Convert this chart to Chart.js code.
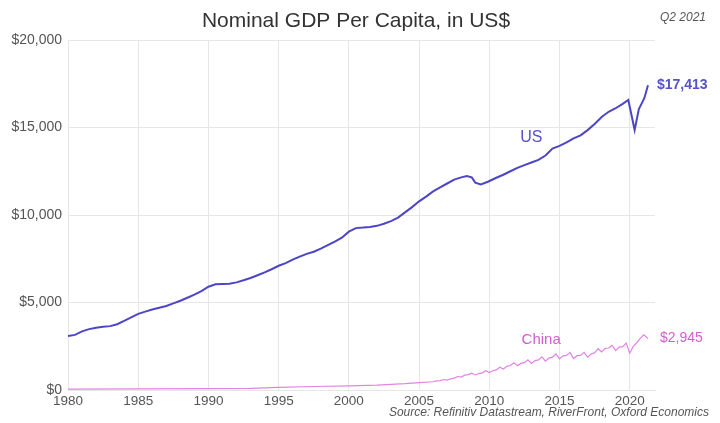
<!DOCTYPE html>
<html>
<head>
<meta charset="utf-8">
<script src="https://cdn.jsdelivr.net/npm/chart.js@4"></script>
<style>
  html, body { margin: 0; padding: 0; background: #fff; }
  #wrap { width: 720px; height: 423px; position: relative; }
</style>
</head>
<body>
<div id="wrap"><canvas id="gdpChart"></canvas></div>
<script>
// US, quarterly-ish readings (year, US$ per capita)
const usYears = [1980, 1980.5, 1981, 1981.5, 1982, 1982.5, 1983, 1983.5, 1984, 1984.5,
  1985, 1985.5, 1986, 1986.5, 1987, 1987.5, 1988, 1988.5, 1989, 1989.5,
  1990, 1990.5, 1991, 1991.5, 1992, 1992.5, 1993, 1993.5, 1994, 1994.5,
  1995, 1995.5, 1996, 1996.5, 1997, 1997.5, 1998, 1998.5, 1999, 1999.5,
  2000, 2000.5, 2001, 2001.5, 2002, 2002.5, 2003, 2003.5, 2004, 2004.5,
  2005, 2005.5, 2006, 2006.5, 2007, 2007.5, 2008, 2008.4, 2008.75, 2009, 2009.4, 2009.9,
  2010.5, 2011, 2011.5, 2012, 2012.5, 2013, 2013.5, 2014, 2014.5,
  2015, 2015.5, 2016, 2016.5, 2017, 2017.5, 2018, 2018.5, 2019, 2019.5, 2019.9,
  2020.35, 2020.65, 2020.9, 2021.05, 2021.3];
const usValues = [3090, 3150, 3350, 3480, 3560, 3610, 3650, 3760, 3950, 4150,
  4350, 4480, 4600, 4700, 4800, 4950, 5100, 5270, 5450, 5650,
  5900, 6040, 6060, 6070, 6150, 6270, 6400, 6560, 6720, 6900,
  7100, 7250, 7450, 7620, 7780, 7900, 8080, 8280, 8480, 8700,
  9050, 9250, 9280, 9320, 9380, 9500, 9650, 9850, 10150, 10450,
  10780, 11050, 11350, 11580, 11800, 12020, 12150, 12230, 12150, 11850, 11750, 11900,
  12130, 12300, 12500, 12690, 12850, 13000, 13150, 13400, 13800,
  13950, 14150, 14380, 14550, 14850, 15200, 15600, 15900, 16100, 16350, 16570,
  14860, 16050, 16450, 16700, 17413];

// China readings
const cnYears = [1980, 1985, 1990, 1993, 1995, 1997.5, 2000, 2002, 2004, 2005,
  2006, 2006.25, 2006.5, 2006.75, 2007, 2007.25, 2007.5, 2007.75,
  2008, 2008.25, 2008.5, 2008.75, 2009, 2009.25, 2009.5, 2009.75,
  2010, 2010.25, 2010.5, 2010.75, 2011, 2011.25, 2011.5, 2011.75,
  2012, 2012.25, 2012.5, 2012.75, 2013, 2013.25, 2013.5, 2013.75,
  2014, 2014.25, 2014.5, 2014.75, 2015, 2015.25, 2015.5, 2015.75,
  2016, 2016.25, 2016.5, 2016.75, 2017, 2017.25, 2017.5, 2017.75,
  2018, 2018.25, 2018.5, 2018.75, 2019, 2019.25, 2019.5, 2019.75,
  2020, 2020.25, 2020.5, 2020.75, 2021, 2021.3];
const cnValues = [50, 70, 80, 95, 150, 200, 240, 280, 360, 420,
  470, 520, 540, 600, 570, 640, 680, 770,
  740, 850, 880, 960, 860, 940, 980, 1100,
  1000, 1100, 1150, 1300, 1200, 1350, 1400, 1560,
  1380, 1520, 1560, 1720, 1520, 1680, 1720, 1900,
  1650, 1820, 1880, 2060, 1780, 1950, 1980, 2150,
  1800, 1960, 1980, 2150, 1880, 2060, 2120, 2360,
  2180, 2380, 2400, 2550, 2250, 2450, 2480, 2680,
  2100, 2500, 2700, 2950, 3150, 2945];

const yTicks = [0, 5000, 10000, 15000, 20000];
const xTicks = [1980, 1985, 1990, 1995, 2000, 2005, 2010, 2015, 2020];

const usColor = '#4c46c6';
const cnColor = '#e383e2';
const fontFamily = '"Liberation Sans", Arial, sans-serif';

const toPoints = (xs, ys) => xs.map((x, i) => ({ x: x, y: ys[i] }));

// titles, source and series labels
const labelsPlugin = {
  id: 'labels',
  afterDraw(chart) {
    const ctx = chart.ctx;
    const xs = chart.scales.x, ys = chart.scales.y;
    ctx.save();
    ctx.textBaseline = 'middle';

    ctx.fillStyle = '#333';
    ctx.font = '21px ' + fontFamily;
    ctx.textAlign = 'center';
    ctx.fillText('Nominal GDP Per Capita, in US$', 356, 21);

    ctx.fillStyle = '#555';
    ctx.font = 'italic 12px ' + fontFamily;
    ctx.textAlign = 'right';
    ctx.fillText('Q2 2021', 706, 18);
    ctx.fillText('Source: Refinitiv Datastream, RiverFront, Oxford Economics', 709, 413);

    ctx.textAlign = 'left';
    ctx.font = 'bold 14px ' + fontFamily;
    ctx.fillStyle = '#5652c8';
    const usLast = usValues[usValues.length - 1];
    ctx.fillText('$' + usLast.toLocaleString('en-US'), 657, ys.getPixelForValue(usLast));
    ctx.font = '16px ' + fontFamily;
    ctx.fillText('US', xs.getPixelForValue(2012.2), ys.getPixelForValue(14400));

    ctx.fillStyle = '#d35cd3';
    ctx.font = '15px ' + fontFamily;
    ctx.fillText('China', xs.getPixelForValue(2012.3), ys.getPixelForValue(2880));
    const cnLast = cnValues[cnValues.length - 1];
    ctx.font = '14px ' + fontFamily;
    ctx.fillText('$' + cnLast.toLocaleString('en-US'), 660, ys.getPixelForValue(cnLast));
    ctx.restore();
  }
};

const config = {
  type: 'line',
  data: {
    datasets: [
      {
        label: 'US',
        data: toPoints(usYears, usValues),
        borderColor: usColor,
        borderWidth: 2,
        pointRadius: 0,
        tension: 0
      },
      {
        label: 'China',
        data: toPoints(cnYears, cnValues),
        borderColor: cnColor,
        borderWidth: 1.2,
        pointRadius: 0,
        tension: 0
      }
    ]
  },
  options: {
    responsive: true,
    maintainAspectRatio: false,
    animation: false,
    layout: { padding: { left: 0, right: 65, top: 40, bottom: 0 } },
    plugins: {
      legend: { display: false },
      tooltip: { enabled: false }
    },
    scales: {
      x: {
        type: 'linear',
        min: 1980,
        max: 2021.8,
        afterBuildTicks: (s) => { s.ticks = xTicks.map(v => ({ value: v })); },
        afterFit: (s) => { s.height = 33; },
        grid: { color: '#e6e6e6', drawTicks: false },
        border: { color: '#e6e6e6' },
        ticks: {
          padding: 3,
          color: '#555',
          font: { size: 13.5, family: fontFamily },
          callback: (v) => String(v)
        }
      },
      y: {
        min: 0,
        max: 20000,
        afterBuildTicks: (s) => { s.ticks = yTicks.map(v => ({ value: v })); },
        afterFit: (s) => { s.width = 68; },
        grid: { color: '#e6e6e6', drawTicks: false },
        border: { color: '#e6e6e6' },
        ticks: {
          padding: 6,
          color: '#555',
          font: { size: 14, family: fontFamily },
          callback: (v) => '$' + v.toLocaleString('en-US')
        }
      }
    }
  },
  plugins: [labelsPlugin]
};

const gdpChart = new Chart(document.getElementById('gdpChart'), config);
</script>
</body>
</html>
